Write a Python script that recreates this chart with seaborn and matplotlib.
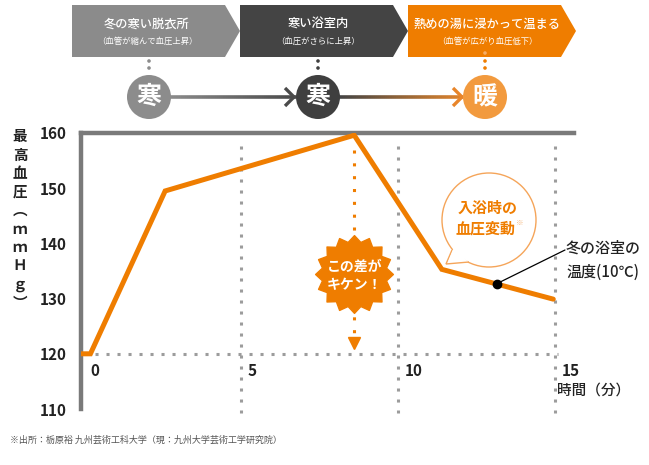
import numpy as np
import pandas as pd
import matplotlib.pyplot as plt
import seaborn as sns
from matplotlib.path import Path
from matplotlib.patches import Polygon, Circle
from matplotlib.collections import LineCollection
from matplotlib.colors import to_rgb

# data
minutes = [-0.1, 0.2, 2.58, 8.6, 11.39, 14.94]
blood_pressure = [120, 120, 149.5, 159.6, 135.3, 129.9]
room_t, room_bp = 13.14, 132.7
x_ticks = [0, 5, 10, 15]
y_ticks = [110, 120, 130, 140, 150, 160]
stages = ["冬の寒い脱衣所", "寒い浴室内", "熱めの湯に浸かって温まる"]
stage_notes = ["（血管が縮んで血圧上昇）", "（血圧がさらに上昇）", "（血管が広がり血圧低下）"]
stage_marks = ["寒", "寒", "暖"]
y_label = ["最", "高", "血", "圧", "︵", "ｍ", "ｍ", "Ｈ", "ｇ", "︶"]

ORANGE = "#ef7d00"
GRAY = "#7a7a7a"
DOT = "#9c9c9c"

sns.set_style("white")
plt.rcParams["font.family"] = ["Noto Sans CJK JP", "DejaVu Sans"]

df = pd.DataFrame({"minutes": minutes, "bp": blood_pressure})

fig = plt.figure(figsize=(6.49, 4.65), dpi=100)
W, H = 649, 465
ax = fig.add_axes([81 / W, (H - 409) / H, (574 - 81) / W, (409 - 133) / H])
ax.set_xlim(-0.1, 15.6)
ax.set_ylim(110, 160)

# grid
for t in x_ticks[1:]:
    ax.plot([t, t], [157.6, 109.2], color=DOT, lw=2.2, ls=(0, (1, 2.6)),
            clip_on=False, zorder=1, solid_capstyle="butt")
ax.plot([0, 15.1], [120, 120], color=DOT, lw=2.2, ls=(0, (1, 2.6)), zorder=1)

# main series
sns.lineplot(data=df, x="minutes", y="bp", ax=ax, color=ORANGE, lw=3.6,
             zorder=4, solid_joinstyle="miter")
ax.plot(room_t, room_bp, "o", color="black", ms=6, zorder=6)

# peak marker
peak_i = int(np.argmax(blood_pressure))
peak_t = minutes[peak_i]
star_y = 134.4
ax.plot([peak_t, peak_t], [157.0, 122.6], color=ORANGE, lw=2.2,
        ls=(0, (1, 3.2)), zorder=3)
ax.plot(peak_t, 121.9, marker="v", color=ORANGE, ms=9, zorder=3)
n = 16
ang = np.pi / 2 + np.arange(2 * n) * np.pi / n
rad = np.where(np.arange(2 * n) % 2 == 0, 1.0, 0.84)
verts = np.c_[rad * np.cos(ang), rad * np.sin(ang)]
verts = np.vstack([verts, verts[:1]])
star = Path(verts, [Path.MOVETO] + [Path.LINETO] * (2 * n - 1) + [Path.CLOSEPOLY])
ax.plot(peak_t, star_y, marker=star, ms=56, color=ORANGE, mec=ORANGE, zorder=5)
ax.text(peak_t, star_y - 0.3, "この差が\nキケン！", color="white", fontsize=10,
        fontweight="bold", ha="center", va="center", linespacing=1.45, zorder=6)

# axes styling
for s in ["right", "bottom"]:
    ax.spines[s].set_visible(False)
for s in ["left", "top"]:
    ax.spines[s].set_color(GRAY)
    ax.spines[s].set_linewidth(3.2)
ax.set_xticks([])
ax.set_yticks(y_ticks)
ax.tick_params(axis="y", length=6, width=2.2, color=GRAY, pad=4,
               labelsize=11, labelcolor="#222222")
for lbl in ax.get_yticklabels():
    lbl.set_fontweight("bold")
ax.set_xlabel("")
ax.set_ylabel("")
for t in x_ticks:
    ax.text(t + 0.2, 116.9, str(t), fontsize=11, fontweight="bold",
            color="#222222", ha="left", va="center")
ax.text(15.05, 113.3, "時間（分）", fontsize=10.5, fontweight="medium",
        color="#222222", ha="left", va="center")
for i, ch in enumerate(y_label):
    fig.text(20 / W, 1 - (136 + i * 18.5) / H, ch, fontsize=10.5,
             fontweight="bold", color="#222222", ha="center", va="center")

ax.annotate("", xy=(room_t, room_bp), xytext=(565, H - 250),
            textcoords="figure pixels",
            arrowprops=dict(arrowstyle="-", color="black", lw=0.9,
                            shrinkA=0, shrinkB=0))

# overlay in pixel space for the flow diagram, bubble and notes
ov = fig.add_axes([0, 0, 1, 1])
ov.set_xlim(0, W)
ov.set_ylim(H, 0)
ov.axis("off")
ov.patch.set_alpha(0)

box_left = [72, 240, 408]
box_col = ["#8b8b8b", "#444444", ORANGE]
circ_x = [149, 318, 485]
circ_col = ["#8c8c8c", "#3f3f3f", "#f29a3e"]
for i in range(3):
    x0 = box_left[i]
    ov.add_patch(Polygon([(x0, 5), (x0 + 153, 5), (x0 + 168, 31),
                          (x0 + 153, 57), (x0, 57)], closed=True,
                         fc=box_col[i], ec="none"))
    tx = [147, 318, 487][i]
    ov.text(tx, 24, stages[i], color="white", fontsize=8.8, ha="center",
            va="center", fontweight="medium")
    ov.text(tx, 41, stage_notes[i], color="white", fontsize=6, ha="center",
            va="center")
    dc = ["#8c8c8c", "#3f3f3f", ORANGE][i]
    for dy in [61, 68]:
        ov.add_patch(Circle((circ_x[i], dy), 1.8, fc=dc, ec="none"))
    if i == 2:
        ov.add_patch(Circle((circ_x[i], 53), 1.8, fc="#f5ad66", ec="none"))

# gradient connectors
def grad_line(x0, x1, c0, c1, y=97):
    xs = np.linspace(x0, x1, 60)
    segs = [[(xs[k], y), (xs[k + 1], y)] for k in range(len(xs) - 1)]
    a, b = np.array(to_rgb(c0)), np.array(to_rgb(c1))
    cols = [a + (b - a) * k / (len(segs) - 1) for k in range(len(segs))]
    ov.add_collection(LineCollection(segs, colors=cols, linewidths=2.6,
                                     capstyle="butt"))

grad_line(170, 296, "#8a8a8a", "#4a4a4a")
grad_line(339, 463, "#444444", "#e0842c")
for tip, c in [(294, "#4a4a4a"), (462, "#e8852a")]:
    ov.plot([tip - 9, tip, tip - 9], [88, 97, 106], color=c, lw=2.4,
            solid_joinstyle="miter", solid_capstyle="butt")

for i in range(3):
    ov.add_patch(Circle((circ_x[i], 97), 22, fc=circ_col[i], ec="none", zorder=3))
    ov.text(circ_x[i], 97, stage_marks[i], color="white", fontsize=18,
            fontweight="bold", ha="center", va="center", zorder=4)

# speech bubble
bc = (489, 220)
ov.add_patch(Circle(bc, 47, fc="white", ec="#f5a55a", lw=1.0, zorder=5))
ov.add_patch(Polygon([(452, 250), (446, 264), (469, 262)], closed=False,
                     fc="white", ec="#f5a55a", lw=1.0, zorder=5))
ov.add_patch(Polygon([(453.5, 248.5), (448, 262), (467, 260.5)], closed=True,
                     fc="white", ec="none", zorder=6))
ov.text(488, 208, "入浴時の", color=ORANGE, fontsize=10.8, fontweight="bold",
        ha="center", va="center", zorder=7)
ov.text(486, 229, "血圧変動", color=ORANGE, fontsize=10.8, fontweight="bold",
        ha="center", va="center", zorder=7)
ov.text(516, 223, "※", color="#f5b57a", fontsize=5.5, ha="left",
        va="center", zorder=7)

ov.text(566, 248, "冬の浴室の", color="#222222", fontsize=10.8,
        fontweight="medium", ha="left", va="center")
ov.text(566, 272, "温度(10℃)", color="#222222", fontsize=10.8,
        fontweight="medium", ha="left", va="center")

ov.text(10, 440, "※出所：栃原裕 九州芸術工科大学（現：九州大学芸術工学研究院）",
        color="#555555", fontsize=6.5, ha="left", va="center")

fig.savefig("out.png", dpi=100)
